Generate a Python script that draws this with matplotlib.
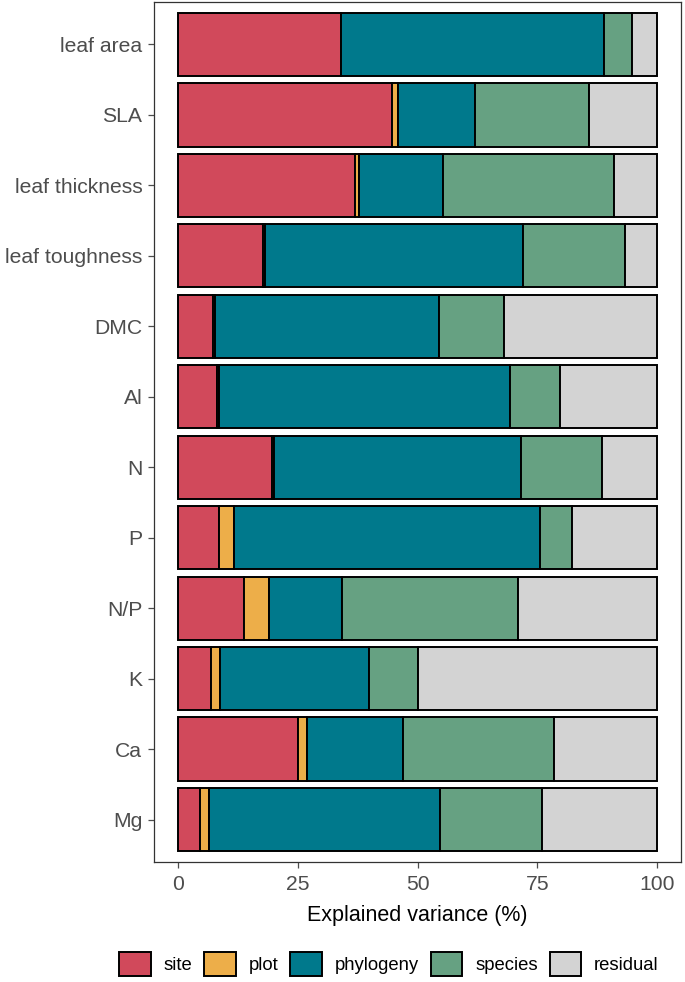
import matplotlib
matplotlib.use("Agg")
import matplotlib.pyplot as plt
from matplotlib.patches import Patch
import numpy as np

plt.rcParams['font.family'] = ['Liberation Sans', 'DejaVu Sans']

traits = ["leaf area", "SLA", "leaf thickness", "leaf toughness", "DMC", "Al",
          "N", "P", "N/P", "K", "Ca", "Mg"]

components = ["site", "plot", "phylogeny", "species", "residual"]
colors = ["#d1495b", "#edae49", "#00798c", "#66a182", "#d3d3d3"]

site = [34.1, 44.7, 37.0, 17.8, 7.4, 8.2, 19.7, 8.5, 13.8, 6.8, 25.1, 4.5]
plot_ = [0.0, 1.3, 0.8, 0.3, 0.3, 0.3, 0.3, 3.2, 5.2, 2.0, 1.8, 1.9]
phylogeny = [54.9, 16.0, 17.5, 53.9, 46.8, 60.9, 51.7, 63.8, 15.2, 31.1, 20.0, 48.4]
species = [5.8, 23.7, 35.7, 21.4, 13.5, 10.3, 16.8, 6.8, 36.7, 10.2, 31.6, 21.1]
residual = [5.2, 14.3, 9.0, 6.6, 32.0, 20.3, 11.5, 17.7, 29.1, 49.9, 21.5, 24.1]

values = [site, plot_, phylogeny, species, residual]

fig = plt.figure(figsize=(6.85, 9.82), dpi=100)
ax = fig.add_axes([154 / 685, 1 - 862 / 982, 527 / 685, 860 / 982])

y = np.arange(len(traits))
left = np.zeros(len(traits))
for name, vals, col in zip(components, values, colors):
    ax.barh(y, vals, left=left, height=0.9, color=col, edgecolor="black",
            linewidth=1.4, label=name)
    left += np.array(vals)

ax.set_xlim(-5, 105)
ax.set_ylim(len(traits) - 0.4, -0.6)
ax.set_yticks(y)
ax.set_yticklabels(traits)
ax.set_xticks([0, 25, 50, 75, 100])
ax.set_xticklabels(["0", "25", "50", "75", "100"])
ax.tick_params(axis="both", colors="#4d4d4d", labelsize=15.2, length=4.1,
               width=0.9)
ax.tick_params(axis="y", pad=4.3)
ax.tick_params(axis="x", pad=5)
for s in ax.spines.values():
    s.set_color("#333333")
    s.set_linewidth(0.9)
ax.set_xlabel("Explained variance (%)", fontsize=15.5, color="black", labelpad=8)

handles = [Patch(facecolor=c, edgecolor="black", linewidth=1.4) for c in colors]
fig.legend(handles, components, loc="center", bbox_to_anchor=(389 / 685, 1 - 964 / 982),
           ncol=5, frameon=False, fontsize=13.3, handlelength=1.7, handleheight=1.7,
           handletextpad=0.7, columnspacing=0.65, borderpad=0, borderaxespad=0)

fig.savefig("out.png", dpi=100)
